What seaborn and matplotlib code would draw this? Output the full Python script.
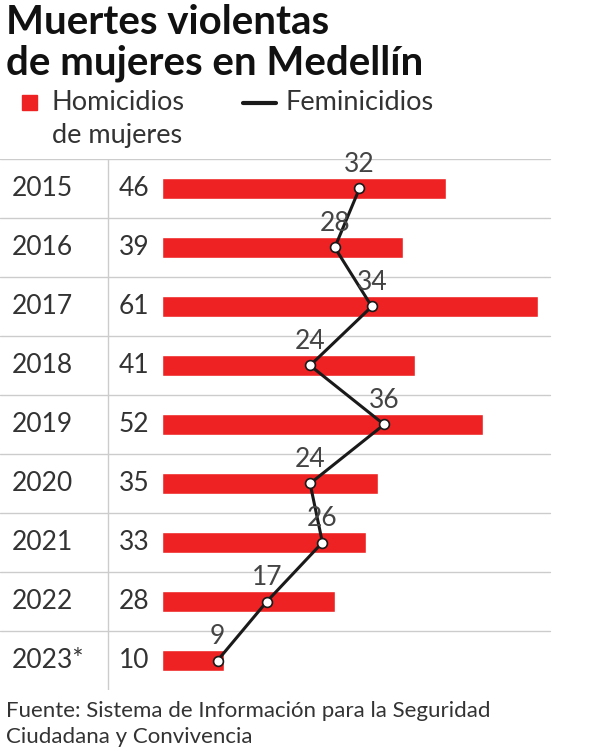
import matplotlib
matplotlib.use("Agg")
import matplotlib.pyplot as plt
import seaborn as sns
import numpy as np

years = ["2015", "2016", "2017", "2018", "2019", "2020", "2021", "2022", "2023*"]
homicidios = [46, 39, 61, 41, 52, 35, 33, 28, 10]
feminicidios = [32, 28, 34, 24, 36, 24, 26, 17, 9]

sns.set_style("white")
plt.rcParams['font.family'] = ['Lato', 'DejaVu Sans']

W, H = 589, 753
fig = plt.figure(figsize=(W/100, H/100), dpi=100)
scale = 6.17
ax = fig.add_axes([0, 1-690/H, 1, (690-159)/H])
sns.barplot(x=homicidios, y=years, orient='h', color="#ee2222", width=0.36,
            saturation=1, ax=ax, zorder=2)
rows = np.arange(len(years))
sns.lineplot(x=feminicidios, y=rows, sort=False, orient='y', color="#1a1a1a",
             lw=2.2, ax=ax, zorder=3)
ax.scatter(feminicidios, rows, s=50, facecolor="white", edgecolor="#1a1a1a",
           linewidth=1.2, zorder=4)
ax.set_xlim(-162/scale, (W-162)/scale)
ax.set_ylim(8.5, -0.5)
ax.axis('off')
for r in range(9):
    ax.plot([-162/scale, (550-162)/scale], [r-0.5, r-0.5], color="#cccccc", lw=1, zorder=1)
ax.plot([-54/scale]*2, [-0.5, 8.5], color="#cccccc", lw=1, zorder=1)
for r, (y, h, f) in enumerate(zip(years, homicidios, feminicidios)):
    ax.text(-150/scale, r, y, fontsize=19, va='center', ha='left', color="#333333")
    ax.text(-43/scale, r, str(h), fontsize=19, va='center', ha='left', color="#333333")
    ax.text(f, r-0.2, str(f), fontsize=19, va='bottom', ha='center', color="#444444", zorder=5)

fig.text(6/W, 1-22/H, "Muertes violentas", fontsize=29, fontweight='bold', va='center', color="#111111")
fig.text(6/W, 1-63/H, "de mujeres en Medellín", fontsize=29, fontweight='bold', va='center', color="#111111")
fig.patches.append(plt.Rectangle((22/W, 1-110/H), 15/W, 15/H, transform=fig.transFigure,
                                 color="#ee2222"))
fig.text(52/W, 1-103/H, "Homicidios", fontsize=19.5, va='center', color="#333333")
fig.text(52/W, 1-136/H, "de mujeres", fontsize=19.5, va='center', color="#333333")
fig.lines.append(plt.Line2D([243/W, 276/W], [1-103/H]*2, transform=fig.transFigure,
                            color="#1a1a1a", lw=3))
fig.text(285/W, 1-103/H, "Feminicidios", fontsize=19.5, va='center', color="#333333")
fig.text(6/W, 1-711/H, "Fuente: Sistema de Información para la Seguridad", fontsize=16, va='center', color="#333333")
fig.text(6/W, 1-737/H, "Ciudadana y Convivencia", fontsize=16, va='center', color="#333333")
fig.savefig("out.png", dpi=100)
